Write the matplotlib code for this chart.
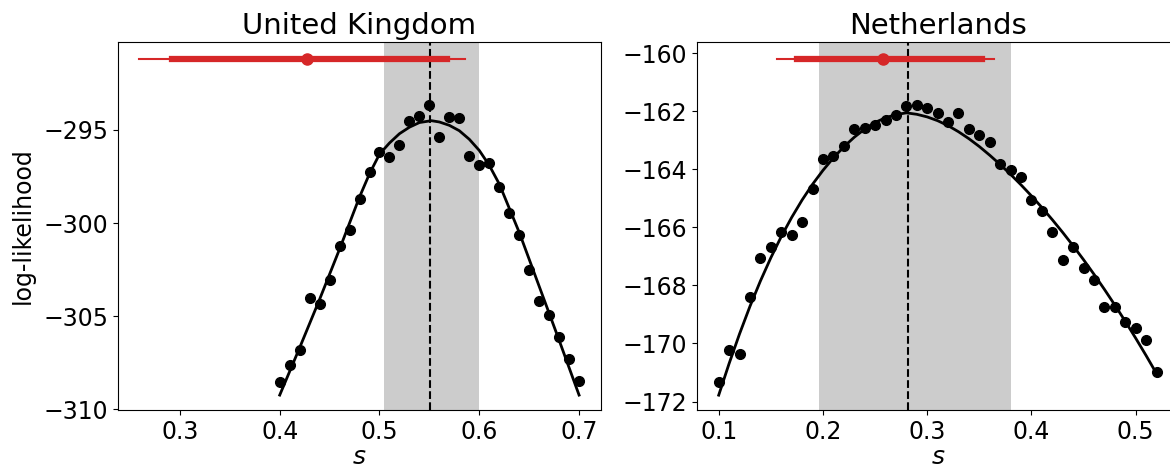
import matplotlib
matplotlib.use("Agg")
import matplotlib.pyplot as plt

# United Kingdom: observed log-likelihood points
uk_s = [0.40, 0.41, 0.42, 0.43, 0.44, 0.45, 0.46, 0.47, 0.48, 0.49, 0.50,
        0.51, 0.52, 0.53, 0.54, 0.55, 0.56, 0.57, 0.58, 0.59, 0.60,
        0.61, 0.62, 0.63, 0.64, 0.65, 0.66, 0.67, 0.68, 0.69, 0.70]
uk_ll = [-308.55, -307.65, -306.83, -304.01, -304.35, -303.06, -301.25, -300.36,
         -298.71, -297.26, -296.18, -296.45, -295.82, -294.53, -294.26, -293.67,
         -295.38, -294.29, -294.37, -296.40, -296.86, -296.75, -298.06, -299.45,
         -300.66, -302.53, -304.21, -304.93, -306.13, -307.31, -308.49]
# fitted curve
uk_fit_s = [0.40, 0.42, 0.44, 0.46, 0.48, 0.49, 0.50, 0.51, 0.52, 0.53, 0.54,
            0.552, 0.56, 0.57, 0.58, 0.59, 0.60, 0.61, 0.62, 0.64, 0.66, 0.68, 0.70]
uk_fit_ll = [-309.25, -306.7, -304.1, -301.4, -298.6, -297.35, -296.3, -295.7,
             -295.2, -294.85, -294.6, -294.5, -294.57, -294.75, -295.04, -295.5,
             -296.1, -296.9, -297.9, -300.5, -303.4, -306.3, -309.25]
uk_mle = 0.551
uk_ci = (0.505, 0.600)
uk_est = 0.427
uk_est_50 = (0.292, 0.5675)
uk_est_95 = (0.259, 0.5856)
uk_est_y = -291.18

# Netherlands
nl_s = [0.10, 0.11, 0.12, 0.13, 0.14, 0.15, 0.16, 0.17, 0.18, 0.19, 0.20,
        0.21, 0.22, 0.23, 0.24, 0.25, 0.26, 0.27, 0.28, 0.29, 0.30,
        0.31, 0.32, 0.33, 0.34, 0.35, 0.36, 0.37, 0.38, 0.39, 0.40,
        0.41, 0.42, 0.43, 0.44, 0.45, 0.46, 0.47, 0.48, 0.49, 0.50, 0.51, 0.52]
nl_ll = [-171.32, -170.22, -170.36, -168.41, -167.07, -166.68, -166.17, -166.25,
         -165.83, -164.67, -163.65, -163.53, -163.20, -162.62, -162.57, -162.47,
         -162.29, -162.14, -161.82, -161.78, -161.91, -162.06, -162.38, -162.07,
         -162.60, -162.83, -163.06, -163.81, -164.04, -164.27, -165.06, -165.43,
         -166.17, -167.12, -166.68, -167.41, -167.80, -168.73, -168.73, -169.26,
         -169.47, -169.87, -170.99]
nl_fit_s = nl_s
nl_fit_ll = [-171.78, -170.69, -169.67, -168.72, -167.85, -167.05, -166.32,
             -165.66, -165.06, -164.52, -164.04, -163.61, -163.23, -162.90,
             -162.62, -162.39, -162.23, -162.12, -162.06, -162.11, -162.20,
             -162.33, -162.50, -162.71, -162.95, -163.22, -163.52, -163.84,
             -164.18, -164.54, -164.92, -165.32, -165.74, -166.18, -166.64,
             -167.12, -167.62, -168.14, -168.68, -169.24, -169.82, -170.42,
             -171.04]
nl_mle = 0.2815
nl_ci = (0.196, 0.380)
nl_est = 0.2577
nl_est_50 = (0.1753, 0.3529)
nl_est_95 = (0.1561, 0.3640)
nl_est_y = -160.2

red = "#d62728"

fig = plt.figure(figsize=(11.7, 4.67), dpi=100)
ax1 = fig.add_axes([0.1009, 0.1221, 0.4128, 0.788])
ax2 = fig.add_axes([0.5960, 0.1221, 0.4117, 0.788])

panels = [
    (ax1, "United Kingdom", uk_s, uk_ll, uk_fit_s, uk_fit_ll, uk_mle, uk_ci,
     uk_est, uk_est_50, uk_est_95, uk_est_y),
    (ax2, "Netherlands", nl_s, nl_ll, nl_fit_s, nl_fit_ll, nl_mle, nl_ci,
     nl_est, nl_est_50, nl_est_95, nl_est_y),
]

for ax, title, s, ll, fs, fll, mle, ci, est, e50, e95, ey in panels:
    ax.axvspan(ci[0], ci[1], color="0.8", lw=0, zorder=0)
    ax.axvline(mle, color="black", ls="--", lw=1.5, zorder=1)
    ax.plot(fs, fll, color="black", lw=2, zorder=2)
    ax.plot(s, ll, "o", color="black", ms=7, zorder=3)
    ax.plot(e95, [ey, ey], color=red, lw=1.5, zorder=4)
    ax.plot(e50, [ey, ey], color=red, lw=4.5, zorder=4)
    ax.plot([est], [ey], "o", color=red, ms=8, zorder=5)
    ax.set_title(title, fontsize=21)
    ax.set_xlabel("$s$", fontsize=18, labelpad=1)
    ax.tick_params(labelsize=17)

ax1.set_xlim(0.238, 0.722)
ax1.set_ylim(-310.05, -290.27)
ax1.set_xticks([0.3, 0.4, 0.5, 0.6, 0.7])
ax1.set_yticks([-295, -300, -305, -310])
ax1.set_ylabel("log-likelihood", fontsize=17, labelpad=6)

ax2.set_xlim(0.0795, 0.5415)
ax2.set_ylim(-172.29, -159.62)
ax2.set_xticks([0.1, 0.2, 0.3, 0.4, 0.5])
ax2.set_yticks([-160, -162, -164, -166, -168, -170, -172])

fig.savefig("out.png", dpi=100)
